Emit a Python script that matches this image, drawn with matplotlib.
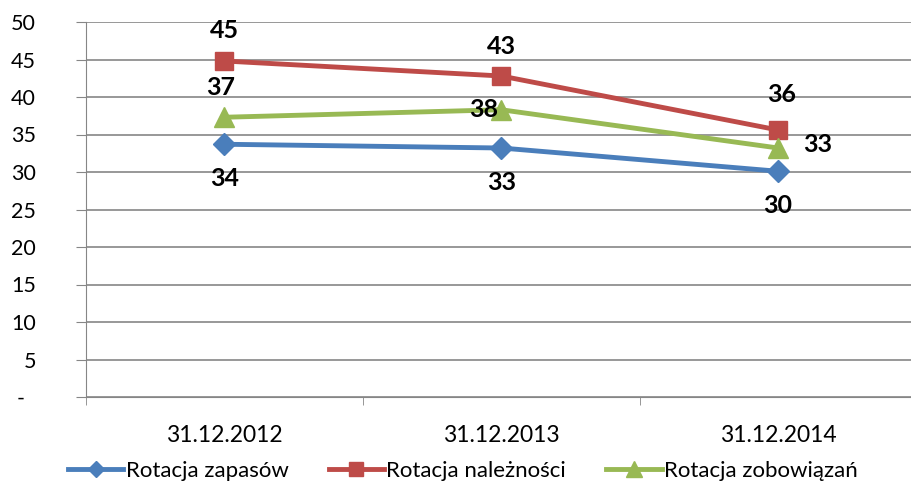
import matplotlib
matplotlib.use("Agg")
import matplotlib.pyplot as plt

categories = ["31.12.2012", "31.12.2013", "31.12.2014"]
zapasy = [33.7, 33.2, 30.1]
naleznosci = [44.8, 42.8, 35.6]
zobowiazania = [37.3, 38.3, 33.2]
labels_zap = ["34", "33", "30"]
labels_nal = ["45", "43", "36"]
labels_zob = ["37", "38", "33"]
yticks = [0, 5, 10, 15, 20, 25, 30, 35, 40, 45, 50]
ytick_labels = ["-  ", "5", "10", "15", "20", "25", "30", "35", "40", "45", "50"]

plt.rcParams['font.family'] = ['Lato', 'DejaVu Sans']

W, H = 911, 483
fig = plt.figure(figsize=(W/100, H/100), dpi=100)
ax = fig.add_axes([86/W, 1-397/H, (916.5-86)/W, (397-22)/H])

x = list(range(len(categories)))
grid_c = "#868686"
ax.set_xlim(-0.5, 2.5)
ax.set_ylim(0, 50)
ax.set_yticks(yticks)
ax.set_yticklabels(ytick_labels, fontsize=15.5)
ax.yaxis.grid(True, color=grid_c, linewidth=1.2)
ax.set_axisbelow(True)
for s in ["top", "right"]:
    ax.spines[s].set_visible(False)
ax.spines["left"].set_color(grid_c)
ax.spines["bottom"].set_color(grid_c)
ax.tick_params(axis="y", length=7, color=grid_c, pad=29)
ax.set_xticks(x)
ax.set_xticklabels(categories, fontsize=16.5)
ax.tick_params(axis="x", which="major", length=0, pad=20)
ax.set_xticks([-0.5, 0.5, 1.5, 2.5], minor=True)
ax.tick_params(axis="x", which="minor", length=6, color=grid_c)

blue = "#4a7ebb"
red = "#be4b48"
green = "#98b954"
ax.plot(x, zapasy, color=blue, lw=3.5, marker="D", ms=11, label="Rotacja zapasów")
ax.plot(x, naleznosci, color=red, lw=3.5, marker="s", ms=13, label="Rotacja należności")
ax.plot(x, zobowiazania, color=green, lw=3.5, marker="^", ms=15, label="Rotacja zobowiązań")

def lab(xv, yv, t, dx, dy):
    ax.annotate(t, (xv, yv), xytext=(dx, -dy), textcoords="offset pixels",
                ha="center", va="center", fontsize=18, fontweight="bold")

offs_zap = [(0, 34), (0, 35), (0, 34)]
offs_nal = [(0, -31), (0, -30), (4, -35)]
offs_zob = [(-4, -30), (-18, 0), (40, -3)]
for i in x:
    lab(i, zapasy[i], labels_zap[i], *offs_zap[i])
    lab(i, naleznosci[i], labels_nal[i], *offs_nal[i])
    lab(i, zobowiazania[i], labels_zob[i], *offs_zob[i])

leg = fig.legend(loc="center", bbox_to_anchor=(0.508, 1-471/H), ncol=3, frameon=False,
                 fontsize=16, handlelength=2.5, handletextpad=0.1, columnspacing=1.8,
                 markerscale=0.75)

fig.savefig("out.png", dpi=100)
